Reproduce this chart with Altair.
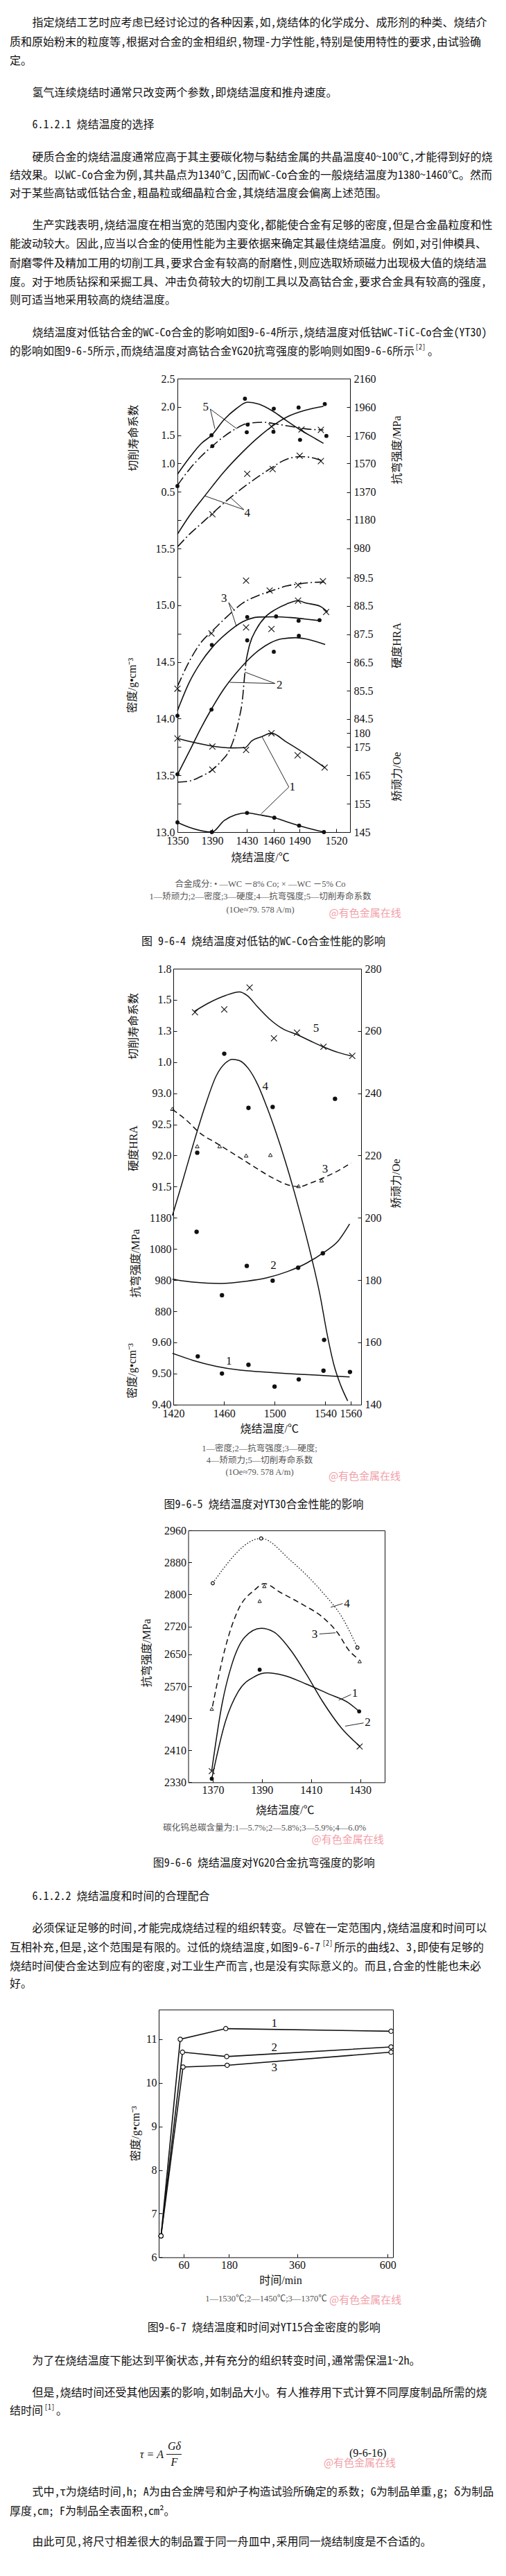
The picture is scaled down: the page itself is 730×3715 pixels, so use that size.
import altair as alt
import pandas as pd

W, H, M = 714, 3699, 8
SERIF = "Liberation Serif"
BODY = "Noto Sans Mono CJK SC, Noto Sans CJK SC"
MIX = "Liberation Serif, Noto Sans CJK SC"
INK = "#111111"
GREY = "#555555"
PINK = "#f2a0a8"
CROSS = "M-1,-1L1,1M-1,1L1,-1"
DASHDOT = [14, 4, 2, 4]
DASH = [8, 5]
DOTTED = [1.5, 2.5]

# ================= Figure 9-6-4 data =================
F1_T_KNOTS = [1350, 1390, 1430, 1460, 1490, 1520, 1531]
F1_T_TICKS = [1350, 1390, 1430, 1460, 1490, 1520]
F1_LIFE_LABELS = [0.5, 1.0, 1.5, 2.0, 2.5]
F1_LIFE_TICKS = [0.0, 0.5, 1.0, 1.5, 2.0, 2.5]
F1_MPA_LABELS = [980, 1180, 1370, 1570, 1760, 1960, 2160]
F1_DENS_LABELS = [13.0, 13.5, 14.0, 14.5, 15.0, 15.5]
F1_DENS_TICKS = [13.0, 13.25, 13.5, 13.75, 14.0, 14.25, 14.5, 14.75, 15.0, 15.25, 15.5]
F1_HRA_LABELS = [84.5, 85.5, 86.5, 87.5, 88.5, 89.5]
F1_OE_LABELS = [145, 155, 165, 175, 180]

F1_LIFE8_T = [1350, 1363.9, 1377.2, 1389.7, 1403.9, 1417.2, 1431, 1443.3, 1458.7, 1474.8, 1490.7, 1502.1, 1509.6]
F1_LIFE8_V = [0.807, 1.101, 1.347, 1.502, 1.776, 1.960, 2.083, 2.050, 1.927, 1.756, 1.592, 1.449, 1.355]
F1_LIFE5_T = [1350, 1363.9, 1377.2, 1390.3, 1403.9, 1417.2, 1431, 1448.5, 1464.1, 1480.3, 1494.5, 1509.6]
F1_LIFE5_V = [0.610, 0.897, 1.122, 1.306, 1.478, 1.612, 1.707, 1.727, 1.694, 1.653, 1.612, 1.592]
F1_MPA8_T = [1350, 1363.9, 1382.5, 1403.9, 1425.2, 1443.3, 1461.4, 1477.6, 1494.5, 1509.6]
F1_MPA8_V = [1077, 1206, 1351, 1512, 1649, 1754, 1842, 1899, 1939, 1967]
F1_MPA5_T = [1350, 1363.9, 1377.2, 1390.3, 1406.7, 1425.2, 1443.3, 1458.7, 1469.5, 1480.3, 1490.7, 1500.6, 1509.6]
F1_MPA5_V = [988, 1077, 1149, 1222, 1310, 1399, 1480, 1544, 1584, 1609, 1617, 1609, 1584]

F1_UP_DOT_LIFE_T = [1350, 1389.3, 1390.3, 1427.9, 1431, 1430, 1460, 1459.6, 1490.5, 1512]
F1_UP_DOT_LIFE_V = [0.598, 1.498, 1.306, 2.144, 1.686, 1.551, 1.968, 1.559, 1.416, 1.486]
F1_UP_DOT_MPA_T = [1489, 1510.7]
F1_UP_DOT_MPA_V = [1959, 1983]
F1_UP_X_LIFE_T = [1457.4, 1491.7, 1507.5]
F1_UP_X_LIFE_V = [1.653, 1.600, 1.592]
F1_UP_X_MPA_T = [1390.3, 1430.5, 1458.7, 1490.2, 1507.5]
F1_UP_X_MPA_V = [1216, 1497, 1530, 1623, 1586]

F1_HRA5_T = [1350, 1363.9, 1377.2, 1390.3, 1406.7, 1425.2, 1443.3, 1458.7, 1474.8, 1490.7, 1502.1, 1510]
F1_HRA5_V = [85.65, 86.55, 87.21, 87.62, 88.11, 88.60, 88.88, 89.05, 89.21, 89.29, 89.34, 89.35]
F1_HRA8_T = [1350, 1363.9, 1377.2, 1390.3, 1406.7, 1425.2, 1443.3, 1461.4, 1480.3, 1494.5, 1507]
F1_HRA8_V = [84.79, 85.81, 86.51, 87.04, 87.53, 87.94, 88.11, 88.12, 88.09, 88.04, 87.98]
F1_DEN8_T = [1350, 1363.9, 1377.2, 1389.3, 1403.9, 1417.2, 1430.5, 1443.3, 1456.4, 1469.5, 1485.7, 1494.9, 1511]
F1_DEN8_V = [13.506, 13.714, 13.918, 14.085, 14.265, 14.397, 14.51, 14.602, 14.669, 14.704, 14.714, 14.704, 14.653]
F1_DEN5A_T = [1350, 1363.9, 1377.2, 1390.3, 1401.2, 1409.2, 1415.9, 1421.2, 1425.2, 1427.4, 1429.2]
F1_DEN5A_V = [13.44, 13.45, 13.49, 13.55, 13.63, 13.71, 13.84, 14.00, 14.18, 14.37, 14.51]
F1_DEN5B_T = [1429.2, 1433.1, 1440.8, 1451.0, 1461.4, 1474.8, 1488.4, 1494.9, 1507, 1513]
F1_DEN5B_V = [14.51, 14.65, 14.79, 14.90, 14.96, 15.01, 15.04, 15.02, 14.99, 14.94]
F1_OE5_T = [1350, 1363.9, 1390.3, 1412.6, 1427.9, 1435.6, 1445.9, 1457.4, 1474.8, 1494.5, 1510.6]
F1_OE5_V = [178.05, 177.0, 175.35, 174.7, 174.8, 177.24, 178.6, 179.9, 176.8, 172.7, 167.8]
F1_OE8_T = [1350, 1363.9, 1389.7, 1403.9, 1417.2, 1430.3, 1443.3, 1460.6, 1474.8, 1489.6, 1500.6, 1510]
F1_OE8_V = [148.43, 146.64, 145.0, 149.09, 151.12, 151.78, 151.12, 150.07, 148.67, 147.28, 145.98, 145.0]

F1_LO_DOT_HRA_T = [1350, 1389.7, 1430.5, 1462.7, 1489, 1506.4]
F1_LO_DOT_HRA_V = [84.61, 87.12, 88.11, 88.13, 87.98, 88.0]
F1_LO_DOT_DEN_T = [1350, 1389.3, 1430.5, 1460, 1489.3]
F1_LO_DOT_DEN_V = [13.51, 14.08, 14.69, 14.59, 14.73]
F1_LO_DOT_OE_T = [1350, 1389.7, 1430.3, 1460.6, 1489.6, 1510]
F1_LO_DOT_OE_V = [148.43, 145.0, 151.78, 150.07, 147.28, 145.0]
F1_LO_X_HRA_T = [1350, 1389.3, 1429.2, 1429.2, 1455.4, 1488.4, 1509.2]
F1_LO_X_HRA_V = [85.57, 87.53, 89.40, 87.74, 89.05, 89.24, 89.38]
F1_LO_X_DEN_T = [1390.3, 1457.4, 1488.4, 1511.8]
F1_LO_X_DEN_V = [13.55, 14.79, 15.04, 14.94]
F1_LO_X_OE_T = [1350, 1390.3, 1429.2, 1457.4, 1487.9, 1510.6]
F1_LO_X_OE_V = [178.05, 175.2, 174.0, 179.9, 172.1, 167.8]

F1_TAG_LIFE = [(1382.6, 2.0, "5"), (1430.5, 0.12, "4")]
F1_TAG_HRA = [(1403.8, 88.76, "3")]
F1_TAG_DEN = [(1466.7, 14.296, "2")]
F1_TAG_OE = [(1481.6, 160.9, "1")]
F1_LEAD_LIFE = [(1387.9, 1.96, 1393.2, 1.613), (1387.9, 1.96, 1418.5, 1.613),
                (1426.6, 0.181, 1381.2, 0.426), (1426.6, 0.181, 1411.9, 0.386)]
F1_LEAD_HRA = [(1409.2, 88.62, 1415.6, 88.34), (1409.2, 88.62, 1418, 87.78)]
F1_LEAD_DEN = [(1461.4, 14.31, 1427.9, 14.41), (1461.4, 14.31, 1410.5, 14.32)]
F1_LEAD_OE = [(1477.6, 160.9, 1447.2, 178.5), (1477.6, 160.9, 1445.9, 151.4)]

# ================= Figure 9-6-5 data =================
F2_T_LABELS = [1420, 1460, 1500, 1540, 1560]
F2_LIFE_LABELS = [1.0, 1.25, 1.5, 1.75]
F2_HRA_LABELS = [91.5, 92.0, 92.5, 93.0]
F2_MPA_LABELS = [880, 980, 1080, 1180]
F2_DENS_LABELS = [9.40, 9.50, 9.60]
F2_OE_LABELS = [140, 160, 180, 200, 220, 240, 260, 280]

F2_LIFE_T = [1436.6, 1448.4, 1461.1, 1472.1, 1478.4, 1486.6, 1495.7, 1506.6, 1517.6, 1528.5, 1539.4, 1550.3, 1560.3]
F2_LIFE_V = [1.407, 1.477, 1.534, 1.564, 1.534, 1.442, 1.348, 1.266, 1.221, 1.168, 1.118, 1.077, 1.05]
F2_LIFE_PT_T = [1437.1, 1460.2, 1480.2, 1499.4, 1517.6, 1538.5, 1561.2]
F2_LIFE_PT_V = [1.40, 1.423, 1.598, 1.191, 1.236, 1.123, 1.05]
F2_OE_T = [1419.3, 1426.6, 1435.7, 1444.8, 1453.9, 1461.1, 1466.6, 1472.1, 1479.3, 1486.6, 1493.9,
           1501.2, 1508.5, 1515.7, 1521.2, 1528.5, 1535.8, 1541.2, 1546.7, 1552.1, 1557.6]
F2_OE_V = [200.7, 210.7, 223.5, 235.5, 245.6, 249.7, 250.9, 250.5, 247.9, 242.8, 235.5,
           227.2, 218.0, 208.0, 199.8, 188.2, 175.1, 163.0, 152.8, 146.2, 141.2]
F2_OE_PT_T = [1460.2, 1438.9, 1479.3, 1498.4, 1547.6, 1539]
F2_OE_PT_V = [252.7, 220.9, 235.3, 235.6, 238.2, 160.8]
F2_HRA_T = [1419.3, 1430.2, 1441.1, 1453.9, 1466.6, 1477.5, 1488.4, 1499.4, 1510.3, 1519.4, 1528.5, 1539.4, 1550.3, 1560.3]
F2_HRA_V = [92.74, 92.57, 92.36, 92.20, 92.04, 91.90, 91.76, 91.63, 91.53, 91.5, 91.56, 91.65, 91.76, 91.88]
F2_HRA_PT_T = [1419.3, 1438.9, 1456.6, 1477.5, 1496.6, 1518.8, 1537]
F2_HRA_PT_V = [92.75, 92.15, 92.15, 92.0, 92.01, 91.51, 91.60]
F2_MPA_T = [1419.3, 1435.7, 1457.5, 1477.5, 1493.9, 1510.3, 1524.8, 1539.4, 1550.3, 1559.1]
F2_MPA_V = [982.8, 973.5, 968.9, 976.3, 987.4, 1007.8, 1033.7, 1070.7, 1106.8, 1160.4]
F2_MPA_PT_T = [1438.4, 1458.4, 1478, 1498.4, 1518.5, 1538]
F2_MPA_PT_V = [1135, 931.5, 1025.5, 978.1, 1019.8, 1066.1]
F2_DEN_T = [1419.3, 1435.7, 1453.9, 1472.1, 1490.3, 1508.5, 1526.7, 1544.9, 1559.1]
F2_DEN_V = [9.565, 9.542, 9.523, 9.511, 9.505, 9.50, 9.496, 9.492, 9.489]
F2_DEN_PT_T = [1439.3, 1458.4, 1479.3, 1499.9, 1519, 1538.5, 1559.4]
F2_DEN_PT_V = [9.555, 9.50, 9.528, 9.458, 9.481, 9.509, 9.505]
F2_TAG_LIFE = [(1532.7, 1.271, "5")]
F2_TAG_OE = [(1492.6, 242.1, "4")]
F2_TAG_HRA = [(1539.8, 91.78, "3")]
F2_TAG_MPA = [(1499, 1027, "2")]
F2_TAG_DEN = [(1463.9, 9.540, "1")]

# ================= Figure 9-6-6 data =================
F3_T_LABELS = [1370, 1390, 1410, 1430]
F3_MPA_LABELS = [2330, 2410, 2490, 2570, 2650, 2720, 2800, 2880, 2960]
F3_C4_T = [1370, 1389.7, 1401.5, 1414.7, 1422.6, 1428.9]
F3_C4_V = [2828, 2940, 2886, 2805, 2743, 2667]
F3_C4_PT_T = [1370, 1389.7, 1428.9]
F3_C4_PT_V = [2828, 2940, 2667]
F3_C3_T = [1369.9, 1375.2, 1380.4, 1387, 1391, 1397.5, 1406.8, 1414.7, 1421.3, 1425.2, 1429.4]
F3_C3_V = [2520, 2669, 2762, 2811, 2827, 2805, 2774, 2743, 2700, 2662, 2638]
F3_C3_PT_T = [1369.6, 1389.1, 1391, 1429.8]
F3_C3_PT_V = [2513.7, 2783.4, 2820.5, 2632.7]
F3_C2_T = [1369.6, 1373.8, 1377.8, 1383.1, 1389.7, 1394.9, 1401.5, 1408.1, 1414.7, 1422.6, 1429.8]
F3_C2_V = [2360, 2526.2, 2625.3, 2693.5, 2715.2, 2705.8, 2662.4, 2600.5, 2532.3, 2464.1, 2420.7]
F3_C2_PT_T = [1369.6, 1429.8]
F3_C2_PT_V = [2358, 2419.5]
F3_C1_T = [1369.6, 1375.2, 1380.4, 1387, 1392.3, 1398.9, 1408.1, 1417.3, 1425.2, 1429.6]
F3_C1_V = [2339, 2482.8, 2557.1, 2594.3, 2603.6, 2597.3, 2575.7, 2550.8, 2529.1, 2507.5]
F3_C1_PT_T = [1369.6, 1389.1, 1429.6]
F3_C1_PT_V = [2339, 2611.6, 2507.5]
F3_TAGS = [(1424.6, 2777, "4"), (1411.5, 2699.7, "3"), (1427.9, 2552.7, "1"), (1433.1, 2479.7, "2")]
F3_LEADS = [(1418, 2767.7, 1422.9, 2777.1), (1413.4, 2701, 1420, 2704),
            (1421.3, 2535.4, 1426.3, 2549.6), (1423.9, 2470.4, 1431.4, 2478.5)]

# ================= Figure 9-6-7 data =================
F4_T_LABELS = [60, 180, 360, 600]
F4_D_LABELS = [6, 7, 8, 9, 10, 11]
F4_C1_T = [0, 50.9, 171.4, 608.8]
F4_C1_V = [6.49, 10.995, 11.24, 11.18]
F4_C2_T = [0, 56.9, 173.8, 608.8]
F4_C2_V = [6.49, 10.70, 10.60, 10.82]
F4_C3_T = [0, 58.2, 175, 608.8]
F4_C3_V = [6.49, 10.36, 10.40, 10.70]
F4_TAGS = [(299.8, 11.354, "1"), (299.8, 10.806, "2"), (299.8, 10.337, "3")]

# ================= layout (page pixel coordinates) =================
S1_T = (F1_T_KNOTS, [256, 306, 356, 395, 432, 485, 505])
S1_LIFE = ([-0.5, 2.5], [790.5, 546])
S1_MPA = ([980, 2160], [790.5, 546])
S1_DEN = ([13.0, 15.5], [1200, 791])
S1_HRA = ([84.5, 89.5], [1036.7, 833.3])
S1_OE = ([145, 180], [1200, 1057])

S2_T = ([1420, 1568.2], [250, 521])
S2_LIFE = ([1.0, 1.75], [1531.7, 1397])
S2_HRA = ([91.5, 93.0], [1711.4, 1576.6])
S2_MPA = ([880, 1180], [1891.0, 1756.3])
S2_DEN = ([9.40, 9.60], [2025.7, 1935.9])
S2_OE = ([140, 280], [2025.7, 1397])

S3_T = ([1360, 1440], [271.5, 555])
S3_MPA = ([2330, 2960], [2570.4, 2207.1])

S4_T = ([-6, 614], [229, 567])
S4_D = ([6, 11.675], [3255.4, 2898.2])


def sc(spec):
    dom, rng = spec
    return alt.Scale(domain=list(dom), range=[r - M for r in rng], nice=False, zero=False)


def axis_layer(ch, spec, orient, pos, values=None, labels=False, ticks=False, line=False,
               fmt=None, expr=None, size=16, pad=4):
    if orient in ("left", "top"):
        off = -(pos - M)
    elif orient == "right":
        off = (pos - M) - W
    else:
        off = (pos - M) - H
    kw = dict(orient=orient, offset=off, title=None, grid=False, labels=labels, ticks=ticks,
              domain=line, tickSize=5 if ticks else 0, tickColor=INK, tickWidth=1,
              domainColor=INK, domainWidth=1, labelFont=SERIF, labelFontSize=size,
              labelColor=INK, labelPadding=pad, labelFlush=False, labelOverlap=False,
              labelBound=False)
    if values is not None:
        kw["values"] = list(values)
    if fmt:
        kw["format"] = fmt
    if expr:
        kw["labelExpr"] = expr
    df = pd.DataFrame({"v": [spec[0][0]]})
    base = alt.Chart(df).mark_point(opacity=0, size=1)
    if ch == "x":
        return base.encode(x=alt.X("v:Q", scale=sc(spec), axis=alt.Axis(**kw)), y=alt.value(0))
    return base.encode(y=alt.Y("v:Q", scale=sc(spec), axis=alt.Axis(**kw)), x=alt.value(0))


def side(ch, spec, orient, pos, labels, ticks=None, fmt=None, expr=None, size=16, pad=4):
    opp = {"left": "right", "right": "left", "bottom": "top", "top": "bottom"}[orient]
    out = [axis_layer(ch, spec, orient, pos, values=labels, labels=True, fmt=fmt, expr=expr,
                      size=size, pad=pad)]
    tv = labels if ticks is None else ticks
    out.append(axis_layer(ch, spec, opp, pos, values=tv, ticks=True))
    return out


def frame(x0, x1, y0, y1):
    vy = ([0, 1], [y1, y0])
    vx = ([0, 1], [x0, x1])
    return [axis_layer("y", vy, "left", x0, line=True),
            axis_layer("y", vy, "right", x1, line=True),
            axis_layer("x", vx, "top", y0, line=True),
            axis_layer("x", vx, "bottom", y1, line=True)]


def curve(xs, ys, sx, sy, dash=None, w=1.6, interp="monotone"):
    df = pd.DataFrame({"x": xs, "y": ys})
    kw = dict(color=INK, strokeWidth=w, interpolate=interp)
    if dash:
        kw["strokeDash"] = dash
    return alt.Chart(df).mark_line(**kw).encode(
        x=alt.X("x:Q", scale=sc(sx), axis=None), y=alt.Y("y:Q", scale=sc(sy), axis=None))


def pts(xs, ys, sx, sy, kind, size=None):
    df = pd.DataFrame({"x": xs, "y": ys})
    c = alt.Chart(df)
    if kind == "dot":
        m = c.mark_point(shape="circle", filled=True, color=INK, size=size or 34, opacity=1)
    elif kind == "cross":
        m = c.mark_point(shape=CROSS, filled=False, color=INK, size=size or 75, strokeWidth=1.1, opacity=1)
    elif kind == "tri":
        m = c.mark_point(shape="triangle-up", filled=False, color=INK, size=size or 30, strokeWidth=1, opacity=1)
    else:
        m = c.mark_point(shape="circle", filled=True, fill="white", stroke=INK, strokeWidth=1.2,
                         size=size or 36, opacity=1)
    return m.encode(x=alt.X("x:Q", scale=sc(sx), axis=None), y=alt.Y("y:Q", scale=sc(sy), axis=None))


def leads(segs, sx, sy):
    df = pd.DataFrame(segs, columns=["x", "y", "x2", "y2"])
    return alt.Chart(df).mark_rule(color=INK, strokeWidth=0.9).encode(
        x=alt.X("x:Q", scale=sc(sx), axis=None), y=alt.Y("y:Q", scale=sc(sy), axis=None),
        x2="x2:Q", y2="y2:Q")


def tags(rows, sx, sy, size=17):
    df = pd.DataFrame(rows, columns=["x", "y", "t"])
    return alt.Chart(df).mark_text(font=SERIF, fontSize=size, color=INK).encode(
        x=alt.X("x:Q", scale=sc(sx), axis=None), y=alt.Y("y:Q", scale=sc(sy), axis=None), text="t:N")


def texts(rows, size=16, font=BODY, color=INK, align="left", angle=0, style="normal"):
    df = pd.DataFrame(rows, columns=["x", "y", "t"])
    df["x"] = df["x"] - M
    df["y"] = df["y"] - M
    return alt.Chart(df).mark_text(font=font, fontSize=size, color=color, align=align,
                                   baseline="middle", angle=angle, fontStyle=style).encode(
        x=alt.X("x:Q", scale=None, axis=None), y=alt.Y("y:Q", scale=None, axis=None), text="t:N")


layers = []


def add(*items):
    for it in items:
        if isinstance(it, list):
            layers.extend(it)
        else:
            layers.append(it)


# ---------------- body text ----------------
BODY_LINES = [
    (46.6, 33.3, "指定烧结工艺时应考虑已经讨论过的各种因素,如,烧结体的化学成分、成形剂的种类、烧结介"),
    (14, 61, "质和原始粉末的粒度等,根据对合金的金相组织,物理-力学性能,特别是使用特性的要求,由试验确"),
    (14, 88.3, "定。"),
    (46.6, 134.3, "氢气连续烧结时通常只改变两个参数,即烧结温度和推舟速度。"),
    (46.6, 180, "6.1.2.1 烧结温度的选择"),
    (46.6, 226.7, "硬质合金的烧结温度通常应高于其主要碳化物与黏结金属的共晶温度40~100℃,才能得到好的烧"),
    (14, 253.3, "结效果。以WC-Co合金为例,其共晶点为1340℃,因而WC-Co合金的一般烧结温度为1380~1460℃。然而"),
    (14, 279.3, "对于某些高钴或低钴合金,粗晶粒或细晶粒合金,其烧结温度会偏离上述范围。"),
    (46.6, 325, "生产实践表明,烧结温度在相当宽的范围内变化,都能使合金有足够的密度,但是合金晶粒度和性"),
    (14, 352.3, "能波动较大。因此,应当以合金的使用性能为主要依据来确定其最佳烧结温度。例如,对引伸模具、"),
    (14, 380, "耐磨零件及精加工用的切削工具,要求合金有较高的耐磨性,则应选取矫顽磁力出现极大值的烧结温"),
    (14, 406.7, "度。对于地质钻探和采掘工具、冲击负荷较大的切削工具以及高钴合金,要求合金具有较高的强度,"),
    (14, 433.3, "则可适当地采用较高的烧结温度。"),
    (46.6, 480, "烧结温度对低钴合金的WC-Co合金的影响如图9-6-4所示,烧结温度对低钴WC-TiC-Co合金(YT30)"),
    (14, 506.7, "的影响如图9-6-5所示,而烧结温度对高钴合金YG20抗弯强度的影响则如图9-6-6所示"),
    (617, 506.7, "。"),
    (46.6, 2734.6, "6.1.2.2 烧结温度和时间的合理配合"),
    (46.6, 2781, "必须保证足够的时间,才能完成烧结过程的组织转变。尽管在一定范围内,烧结温度和时间可以"),
    (14, 2808.6, "互相补充,但是,这个范围是有限的。过低的烧结温度,如图9-6-7"),
    (482, 2808.6, "所示的曲线2、3,即使有足够的"),
    (14, 2835.7, "烧结时间使合金达到应有的密度,对工业生产而言,也是没有实际意义的。而且,合金的性能也未必"),
    (14, 2861.4, "好。"),
    (46.6, 3404.9, "为了在烧结温度下能达到平衡状态,并有充分的组织转变时间,通常需保温1~2h。"),
    (46.6, 3450.7, "但是,烧结时间还受其他因素的影响,如制品大小。有人推荐用下式计算不同厚度制品所需的烧"),
    (14, 3477.4, "结时间"),
    (81, 3477.4, "。"),
    (46.6, 3594.2, "式中,τ为烧结时间,h; A为由合金牌号和炉子构造试验所确定的系数; G为制品单重,g; δ为制品"),
    (14, 3622.1, "厚度,cm; F为制品全表面积,cm²。"),
    (46.6, 3665.9, "由此可见,将尺寸相差很大的制品置于同一舟皿中,采用同一烧结制度是不合适的。"),
]
SUPS = [(599, 501.0, "[2]"), (465, 2803.0, "[2]"), (64, 3472.0, "[1]")]
add(texts(BODY_LINES, size=16))
add(texts(SUPS, size=10))

FIG_TITLES = [
    (380, 1358.3, "图 9-6-4 烧结温度对低钴的WC-Co合金性能的影响"),
    (380.6, 2169.6, "图9-6-5 烧结温度对YT30合金性能的影响"),
    (380.7, 2687.1, "图9-6-6 烧结温度对YG20合金抗弯强度的影响"),
    (380.7, 3357, "图9-6-7 烧结温度和时间对YT15合金密度的影响"),
]
add(texts(FIG_TITLES, size=16, align="center"))

CAPTIONS = [
    (375.5, 1275, "合金成分: • —WC －8% Co; × —WC －5% Co"),
    (375.5, 1293.3, "1—矫顽力;2—密度;3—硬度;4—抗弯强度;5—切削寿命系数"),
    (375.5, 1311.7, "(1Oe≈79. 578 A/m)"),
    (374.5, 2089.3, "1—密度;2—抗弯强度;3—硬度;"),
    (374.5, 2106.4, "4—矫顽力;5—切削寿命系数"),
    (374.5, 2123.2, "(1Oe≈79. 578 A/m)"),
    (381.7, 2636.0, "碳化钨总碳含量为:1—5.7%;2—5.8%;3—5.9%;4—6.0%"),
    (384, 3315.2, "1—1530℃;2—1450℃;3—1370℃"),
]
add(texts(CAPTIONS, size=12.5, font=MIX, color=GREY, align="center"))

MARKS = [(526.7, 1316.7, "@有色金属在线"), (526, 2128.6, "@有色金属在线"),
         (501.7, 2652.5, "@有色金属在线"), (527.2, 3317.2, "@有色金属在线"),
         (519, 3552.3, "@有色金属在线")]
add(texts(MARKS, size=15, font="Noto Sans CJK SC", color=PINK, align="center"))

# formula (9-6-16)
add(texts([(218.8, 3539.6, "τ = A"), (251.4, 3528.4, "Gδ"), (251.4, 3550.5, "F")],
          size=16, font=SERIF, align="center", style="italic"))
add(texts([(530.7, 3538.4, "(9-6-16)")], size=16, font=SERIF, align="center"))
add(alt.Chart(pd.DataFrame({"k": [0]})).mark_rule(color=INK, strokeWidth=1).encode(
    x=alt.value(240 - M), x2=alt.value(262 - M), y=alt.value(3539.6 - M)))

# axis titles
VTITLES = [
    (193.2, 631.7, "切削寿命系数"), (191, 988.5, "密度/g•cm⁻³"),
    (572.6, 649, "抗弯强度/MPa"), (572.6, 930.8, "硬度HRA"), (572.6, 1120, "矫顽力/Oe"),
    (193.2, 1480, "切削寿命系数"), (193.2, 1656, "硬度HRA"), (195.5, 1822, "抗弯强度/MPa"),
    (191, 1977, "密度/g•cm⁻³"), (571.7, 1706.7, "矫顽力/Oe"),
    (211.8, 2384, "抗弯强度/MPa"),
    (195.5, 3077, "密度/g•cm⁻³"),
]
add(texts(VTITLES, size=16, font=MIX, align="center", angle=270))
HTITLES = [(375.5, 1236.7, "烧结温度/℃"), (388.7, 2061.4, "烧结温度/℃"),
           (411.3, 2611.4, "烧结温度/℃"), (405, 3289.3, "时间/min")]
add(texts(HTITLES, size=16, font=MIX, align="center"))

# ---------------- Figure 9-6-4 ----------------
add(frame(256, 505, 546, 1200))
add(side("x", S1_T, "bottom", 1200, F1_T_TICKS, fmt="d", pad=4))
add(side("y", S1_LIFE, "left", 256, F1_LIFE_LABELS, ticks=F1_LIFE_TICKS, fmt=".1f", pad=4))
add(side("y", S1_DEN, "left", 256, F1_DENS_LABELS, ticks=F1_DENS_TICKS, fmt=".1f", pad=4))
add(side("y", S1_MPA, "right", 505, F1_MPA_LABELS, fmt="d", pad=5))
add(side("y", S1_HRA, "right", 505, F1_HRA_LABELS, fmt=".1f", pad=5))
add(side("y", S1_OE, "right", 505, F1_OE_LABELS, fmt="d", pad=5))

add(curve(F1_LIFE8_T, F1_LIFE8_V, S1_T, S1_LIFE))
add(curve(F1_LIFE5_T, F1_LIFE5_V, S1_T, S1_LIFE, dash=DASHDOT))
add(curve(F1_MPA8_T, F1_MPA8_V, S1_T, S1_MPA))
add(curve(F1_MPA5_T, F1_MPA5_V, S1_T, S1_MPA, dash=DASHDOT))
add(curve(F1_HRA5_T, F1_HRA5_V, S1_T, S1_HRA, dash=DASHDOT))
add(curve(F1_HRA8_T, F1_HRA8_V, S1_T, S1_HRA))
add(curve(F1_DEN8_T, F1_DEN8_V, S1_T, S1_DEN))
add(curve(F1_DEN5A_T, F1_DEN5A_V, S1_T, S1_DEN, dash=DASHDOT))
add(curve(F1_DEN5B_T, F1_DEN5B_V, S1_T, S1_DEN))
add(curve(F1_OE5_T, F1_OE5_V, S1_T, S1_OE))
add(curve(F1_OE8_T, F1_OE8_V, S1_T, S1_OE))

add(pts(F1_UP_DOT_LIFE_T, F1_UP_DOT_LIFE_V, S1_T, S1_LIFE, "dot"))
add(pts(F1_UP_DOT_MPA_T, F1_UP_DOT_MPA_V, S1_T, S1_MPA, "dot"))
add(pts(F1_UP_X_LIFE_T, F1_UP_X_LIFE_V, S1_T, S1_LIFE, "cross"))
add(pts(F1_UP_X_MPA_T, F1_UP_X_MPA_V, S1_T, S1_MPA, "cross"))
add(pts(F1_LO_DOT_HRA_T, F1_LO_DOT_HRA_V, S1_T, S1_HRA, "dot"))
add(pts(F1_LO_DOT_DEN_T, F1_LO_DOT_DEN_V, S1_T, S1_DEN, "dot"))
add(pts(F1_LO_DOT_OE_T, F1_LO_DOT_OE_V, S1_T, S1_OE, "dot"))
add(pts(F1_LO_X_HRA_T, F1_LO_X_HRA_V, S1_T, S1_HRA, "cross"))
add(pts(F1_LO_X_DEN_T, F1_LO_X_DEN_V, S1_T, S1_DEN, "cross"))
add(pts(F1_LO_X_OE_T, F1_LO_X_OE_V, S1_T, S1_OE, "cross"))

add(tags(F1_TAG_LIFE, S1_T, S1_LIFE), tags(F1_TAG_HRA, S1_T, S1_HRA),
    tags(F1_TAG_DEN, S1_T, S1_DEN), tags(F1_TAG_OE, S1_T, S1_OE))
add(leads(F1_LEAD_LIFE, S1_T, S1_LIFE), leads(F1_LEAD_HRA, S1_T, S1_HRA),
    leads(F1_LEAD_DEN, S1_T, S1_DEN), leads(F1_LEAD_OE, S1_T, S1_OE))

# ---------------- Figure 9-6-5 ----------------
add(frame(250, 521, 1397, 2025.7))
add(side("x", S2_T, "bottom", 2025.7, F2_T_LABELS, ticks=F2_T_LABELS[1:], fmt="d", pad=5))
add(side("y", S2_LIFE, "left", 250, F2_LIFE_LABELS, fmt="~g",
         expr="datum.value == 1 ? '1.0' : datum.label", pad=3))
add(side("y", S2_HRA, "left", 250, F2_HRA_LABELS, fmt=".1f", pad=3))
add(side("y", S2_MPA, "left", 250, F2_MPA_LABELS, fmt="d", pad=3))
add(side("y", S2_DEN, "left", 250, F2_DENS_LABELS, fmt=".2f", pad=3))
add(side("y", S2_OE, "right", 521, F2_OE_LABELS, ticks=F2_OE_LABELS[1:-1], fmt="d", pad=5))

add(curve(F2_LIFE_T, F2_LIFE_V, S2_T, S2_LIFE, w=1.5))
add(curve(F2_OE_T, F2_OE_V, S2_T, S2_OE, w=1.5))
add(curve(F2_HRA_T, F2_HRA_V, S2_T, S2_HRA, dash=DASH, w=1.5))
add(curve(F2_MPA_T, F2_MPA_V, S2_T, S2_MPA, w=1.5))
add(curve(F2_DEN_T, F2_DEN_V, S2_T, S2_DEN, w=1.5))
add(pts(F2_LIFE_PT_T, F2_LIFE_PT_V, S2_T, S2_LIFE, "cross"))
add(pts(F2_OE_PT_T, F2_OE_PT_V, S2_T, S2_OE, "dot", size=40))
add(pts(F2_HRA_PT_T, F2_HRA_PT_V, S2_T, S2_HRA, "tri"))
add(pts(F2_MPA_PT_T, F2_MPA_PT_V, S2_T, S2_MPA, "dot", size=40))
add(pts(F2_DEN_PT_T, F2_DEN_PT_V, S2_T, S2_DEN, "dot", size=40))
add(tags(F2_TAG_LIFE, S2_T, S2_LIFE), tags(F2_TAG_OE, S2_T, S2_OE), tags(F2_TAG_HRA, S2_T, S2_HRA),
    tags(F2_TAG_MPA, S2_T, S2_MPA), tags(F2_TAG_DEN, S2_T, S2_DEN))

# ---------------- Figure 9-6-6 ----------------
add(frame(271.5, 555, 2207.1, 2570.4))
add(side("x", S3_T, "bottom", 2570.4, F3_T_LABELS, fmt="d", pad=3))
add(side("y", S3_MPA, "left", 271.5, F3_MPA_LABELS, fmt="d", pad=3))
add(curve(F3_C4_T, F3_C4_V, S3_T, S3_MPA, dash=DOTTED, w=1.3))
add(curve(F3_C3_T, F3_C3_V, S3_T, S3_MPA, dash=DASH, w=1.5))
add(curve(F3_C2_T, F3_C2_V, S3_T, S3_MPA, w=1.5))
add(curve(F3_C1_T, F3_C1_V, S3_T, S3_MPA, w=1.5))
add(pts(F3_C4_PT_T, F3_C4_PT_V, S3_T, S3_MPA, "ring", size=22))
add(pts(F3_C3_PT_T, F3_C3_PT_V, S3_T, S3_MPA, "tri", size=26))
add(pts(F3_C2_PT_T, F3_C2_PT_V, S3_T, S3_MPA, "cross", size=70))
add(pts(F3_C1_PT_T, F3_C1_PT_V, S3_T, S3_MPA, "dot", size=34))
add(tags(F3_TAGS, S3_T, S3_MPA), leads(F3_LEADS, S3_T, S3_MPA))

# ---------------- Figure 9-6-7 ----------------
add(frame(229, 567, 2898.2, 3255.4))
add(side("x", S4_T, "bottom", 3255.4, F4_T_LABELS, fmt="d", pad=3))
add(side("y", S4_D, "left", 229, F4_D_LABELS, fmt="d", pad=3))
add(curve(F4_C1_T, F4_C1_V, S4_T, S4_D, interp="linear"))
add(curve(F4_C2_T, F4_C2_V, S4_T, S4_D, interp="linear"))
add(curve(F4_C3_T, F4_C3_V, S4_T, S4_D, interp="linear"))
add(pts(F4_C1_T, F4_C1_V, S4_T, S4_D, "ring", size=40))
add(pts(F4_C2_T, F4_C2_V, S4_T, S4_D, "ring", size=40))
add(pts(F4_C3_T, F4_C3_V, S4_T, S4_D, "ring", size=40))
add(tags(F4_TAGS, S4_T, S4_D))

chart = alt.layer(*layers).resolve_scale(
    x="independent", y="independent"
).resolve_axis(
    x="independent", y="independent"
).properties(
    width=W, height=H, padding=0, background="white",
    autosize=alt.AutoSizeParams(type="none")
).configure_view(strokeWidth=0)

chart.save("out.html", embed_options={"renderer": "svg", "actions": False})
